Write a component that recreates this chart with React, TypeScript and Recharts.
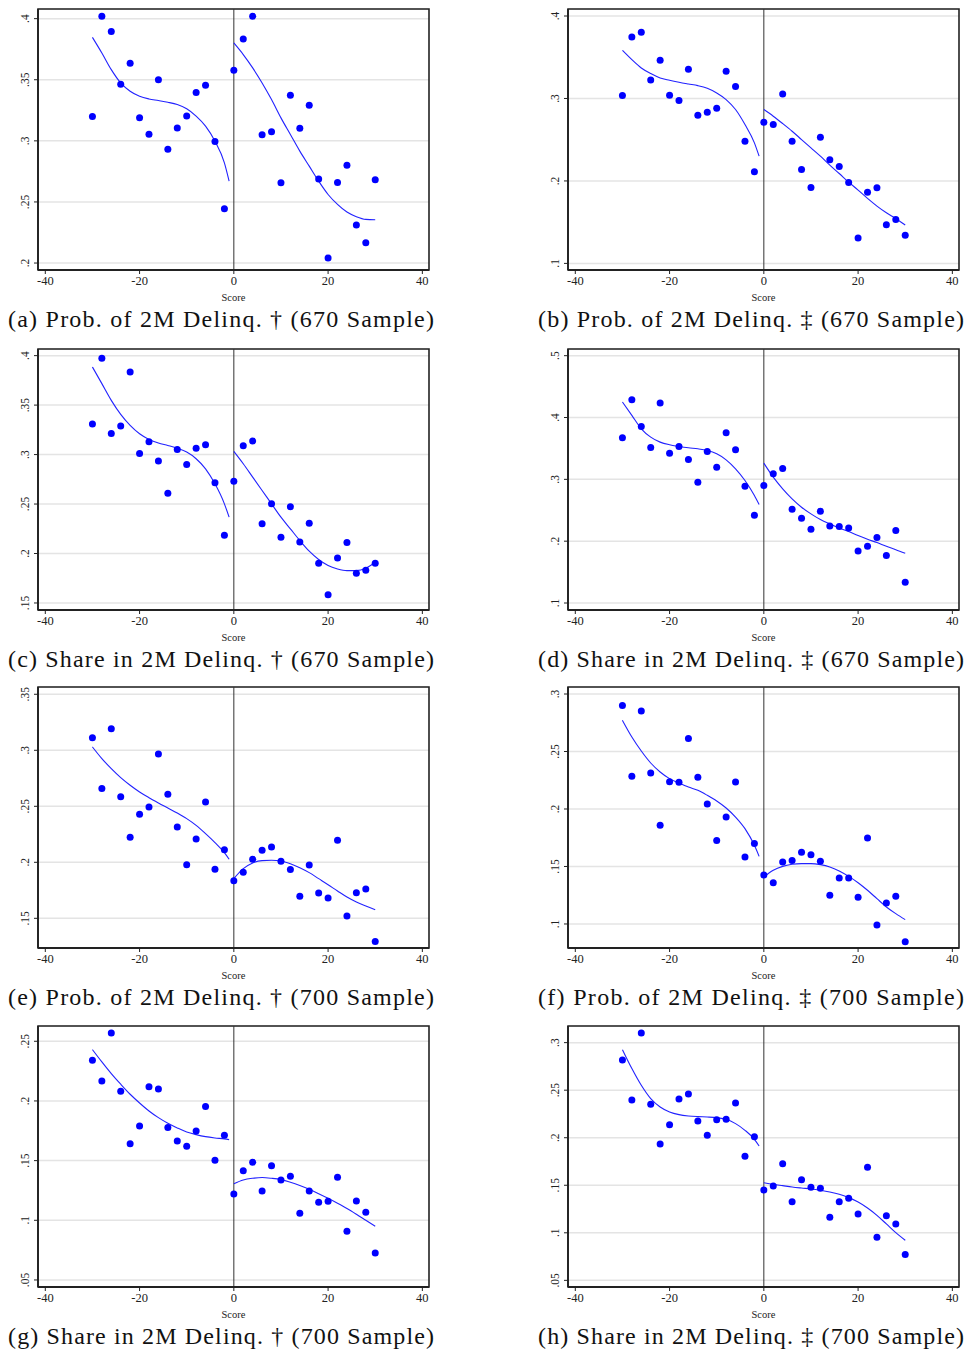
import React from "react"
import {
  ComposedChart,
  Scatter,
  Line,
  XAxis,
  YAxis,
  CartesianGrid,
  ReferenceLine,
  ReferenceArea,
  Label,
} from "recharts"

// score bins (one dot per bin)
const scoreBins = [
  -30, -28, -26, -24, -22, -20, -18, -16, -14, -12, -10, -8, -6, -4, -2,
  0, 2, 4, 6, 8, 10, 12, 14, 16, 18, 20, 22, 24, 26, 28, 30,
]
// positions where the fitted polynomials are sampled
const fitLeftX = [-30, -28, -26, -24, -22, -20, -18, -16, -14, -12, -10, -8, -6, -4, -2, -1]
const fitRightX = [0, 2, 4, 6, 8, 10, 12, 14, 16, 18, 20, 22, 24, 26, 28, 30]
const xTicks = [-40, -20, 0, 20, 40]

// (a) Prob. of 2M delinq., 670 sample, dagger
const probDagger670 = [.3199, .4019, .3894, .3463, .3635, .3188, .3054, .3499, .2932, .3106, .3204, .3395, .3455, .2995, .2444, .3578, .3834, .4019, .3049, .3074, .2657, .3373, .3104, .3292, .2687, .2041, .2659, .2801, .2311, .2166, .2681]
const probDagger670FitL = [.3847, .3719, .3583, .3474, .3406, .3365, .3343, .333, .3316, .3297, .3262, .3202, .312, .2997, .282, .267]
const probDagger670FitR = [.3801, .3706, .3597, .3474, .3338, .3188, .3052, .2916, .2793, .267, .2561, .248, .2417, .2379, .2357, .2354]

// (b) Prob. of 2M delinq., 670 sample, double dagger
const probDDagger670 = [.3035, .3746, .3802, .3225, .3463, .3039, .2975, .3354, .2797, .2833, .2882, .333, .3144, .2482, .2111, .2712, .2684, .3055, .2482, .2139, .1921, .253, .2256, .2175, .1981, .1307, .1864, .1917, .1469, .1533, .134]
const probDDagger670FitL = [.3584, .3471, .337, .3302, .3249, .3221, .3197, .3176, .3156, .3124, .3067, .2987, .2866, .2684, .2462, .23]
const probDDagger670FitR = [.2866, .2785, .2696, .2603, .2502, .2401, .23, .2191, .209, .1985, .1889, .1788, .1695, .1614, .1545, .1465]

// (c) Share in 2M delinq., 670 sample, dagger
const shareDagger670 = [.3308, .3973, .3214, .3288, .3835, .3011, .313, .2934, .261, .3052, .29, .3065, .3099, .2715, .2185, .2731, .3089, .3136, .23, .2502, .2165, .2472, .2117, .2306, .1901, .1584, .1955, .2111, .18, .1831, .1901]
const shareDagger670FitL = [.3885, .3717, .3548, .3406, .3295, .321, .3153, .3116, .3092, .3065, .3025, .2958, .2856, .2704, .2502, .2367]
const shareDagger670FitR = [.3032, .2907, .2772, .2637, .2502, .2367, .2249, .2131, .2023, .1939, .1878, .1844, .1827, .1827, .1851, .1912]

// (d) Share in 2M delinq., 670 sample, double dagger
const shareDDagger670 = [.3672, .4287, .3856, .3516, .4233, .3424, .3532, .3321, .2954, .3451, .3197, .3753, .3478, .2889, .242, .29, .3089, .3175, .2517, .2371, .2193, .2484, .2247, .2236, .2215, .1842, .1918, .2058, .1767, .2171, .1335]
const shareDDagger670FitL = [.425, .4034, .3818, .3683, .3602, .3559, .3532, .351, .3494, .3467, .3413, .3316, .317, .2981, .2738, .2592]
const shareDDagger670FitR = [.3262, .3035, .2846, .2684, .2549, .2441, .235, .2279, .2215, .2155, .209, .2031, .1977, .1917, .1863, .1804]

// (e) Prob. of 2M delinq., 700 sample, dagger
const probDagger700 = [.3113, .2658, .3193, .2586, .2223, .2429, .2494, .2967, .2607, .2315, .1979, .2208, .2539, .1937, .2113, .1836, .1911, .2027, .2107, .2137, .2009, .1935, .1696, .1976, .1726, .1682, .2196, .1521, .1729, .1762, .1292]
const probDagger700FitL = [.303, .2926, .2836, .2756, .2688, .2628, .2577, .253, .2485, .244, .239, .233, .2256, .2176, .2086, .2027]
const probDagger700FitR = [.1854, .1943, .1994, .2015, .2018, .2012, .1988, .1952, .1908, .1854, .18, .1744, .169, .1646, .161, .1577]

// (f) Prob. of 2M delinq., 700 sample, double dagger
const probDDagger700 = [.2901, .2284, .2852, .2313, .1858, .2238, .2232, .2614, .2275, .2043, .1725, .193, .2235, .1583, .1699, .1426, .1359, .1539, .1551, .1623, .1603, .1545, .1249, .14, .14, .1232, .1748, .0991, .1183, .1241, .0846]
const probDDagger700FitL = [.2771, .2626, .2504, .24, .2322, .2264, .2226, .2191, .2162, .2119, .207, .2009, .193, .1829, .1684, .1588]
const probDDagger700FitR = [.1409, .1467, .1501, .1519, .1525, .1525, .1516, .1496, .1461, .1414, .1359, .1293, .122, .1148, .109, .1038]

// (g) Share in 2M delinq., 700 sample, dagger
const shareDagger700 = [.2341, .2168, .257, .2081, .1642, .1791, .212, .2101, .1777, .1665, .162, .1749, .1953, .1503, .1712, .1221, .1416, .1486, .1246, .1458, .1338, .1369, .1059, .1246, .1151, .1159, .136, .0908, .1162, .1067, .0726]
const shareDagger700FitL = [.243, .2327, .2229, .214, .2056, .1983, .1916, .186, .1813, .1774, .174, .1718, .1701, .169, .1682, .1676]
const shareDagger700FitR = [.1307, .1338, .1352, .1358, .1352, .1341, .1318, .1291, .126, .1223, .1184, .1142, .1098, .105, .1, .095]

// (h) Share in 2M delinq., 700 sample, double dagger
const shareDDagger700 = [.2818, .2397, .3102, .2351, .1934, .2137, .2407, .246, .2176, .2025, .219, .2194, .2365, .1804, .2011, .145, .1492, .1727, .1327, .1559, .1478, .1468, .1163, .1327, .1363, .1198, .1689, .0952, .118, .1093, .0773]
const shareDDagger700FitL = [.2926, .2727, .2551, .2411, .2323, .2271, .2243, .2229, .2222, .2218, .2211, .2194, .2148, .2078, .1983, .1913]
const shareDDagger700FitR = [.1527, .151, .1496, .1482, .1471, .1461, .1447, .1429, .1405, .137, .1324, .1261, .1184, .1093, .1001, .0921]

const captions = [
  "(a) Prob. of 2M Delinq. \u2020 (670 Sample)",
  "(b) Prob. of 2M Delinq. \u2021 (670 Sample)",
  "(c) Share in 2M Delinq. \u2020 (670 Sample)",
  "(d) Share in 2M Delinq. \u2021 (670 Sample)",
  "(e) Prob. of 2M Delinq. \u2020 (700 Sample)",
  "(f) Prob. of 2M Delinq. \u2021 (700 Sample)",
  "(g) Share in 2M Delinq. \u2020 (700 Sample)",
  "(h) Share in 2M Delinq. \u2021 (700 Sample)",
]

const yTicksByPanel = [
  [.2, .25, .3, .35, .4],
  [.1, .2, .3, .4],
  [.15, .2, .25, .3, .35, .4],
  [.1, .2, .3, .4, .5],
  [.15, .2, .25, .3, .35],
  [.1, .15, .2, .25, .3],
  [.05, .1, .15, .2, .25],
  [.05, .1, .15, .2, .25, .3],
]

const yDomains: [number, number][] = [
  [.1943, .4079],
  [.092, .4085],
  [.1429, .4067],
  [.0887, .5108],
  [.1235, .3565],
  [.0791, .3061],
  [.0441, .2628],
  [.043, .3175],
]

const series = [
  [probDagger670, probDagger670FitL, probDagger670FitR],
  [probDDagger670, probDDagger670FitL, probDDagger670FitR],
  [shareDagger670, shareDagger670FitL, shareDagger670FitR],
  [shareDDagger670, shareDDagger670FitL, shareDDagger670FitR],
  [probDagger700, probDagger700FitL, probDagger700FitR],
  [probDDagger700, probDDagger700FitL, probDDagger700FitR],
  [shareDagger700, shareDagger700FitL, shareDagger700FitR],
  [shareDDagger700, shareDDagger700FitL, shareDDagger700FitR],
]

const X_DOMAIN: [number, number] = [-41.55, 41.41]
const FONT = "'Liberation Serif', 'Times New Roman', serif"
const DOT = "#0000ff"
const FIT = "#2222ff"
const INK = "#222"

const colLeft = [0, 530]
const frameTop = [9.3, 348.7, 686.7, 1025.7]
const FRAME_W = 391
const FRAME_H = 261
const M_TOP = 8
const M_LEFT = 8
const Y_W = 30
const X_H = 32

// stata-style number labels: .35 instead of 0.35
const fmt = (v: number) => String(+v.toFixed(3)).replace(/^0\./, ".")

const YTick = (props: any) => {
  const { x, y, payload } = props
  return (
    <text
      x={x}
      y={y}
      transform={`rotate(-90 ${x} ${y})`}
      textAnchor="middle"
      fontSize={11.5}
      fontFamily={FONT}
      fill={INK}
    >
      {fmt(payload.value)}
    </text>
  )
}

const Dot = (props: any) => <circle cx={props.cx} cy={props.cy} r={3.5} fill={DOT} />

function Panel({ idx }: { idx: number }) {
  const [pts, fitL, fitR] = series[idx]
  const dots = scoreBins.map((x, i) => ({ x, y: pts[i] }))
  const left = fitLeftX.map((x, i) => ({ x, y: fitL[i] }))
  const right = fitRightX.map((x, i) => ({ x, y: fitR[i] }))
  const [y0, y1] = yDomains[idx]
  const col = idx % 2
  const row = Math.floor(idx / 2)
  const top = frameTop[row] - M_TOP
  const capLeft = col === 0 ? 8 : 538

  return (
    <>
      <div style={{ position: "absolute", left: colLeft[col], top }}>
        <ComposedChart
          width={M_LEFT + Y_W + FRAME_W + 4}
          height={M_TOP + FRAME_H + X_H}
          margin={{ top: M_TOP, right: 4, bottom: 0, left: M_LEFT }}
        >
          <CartesianGrid vertical={false} stroke="#e4e4e4" strokeWidth={1.5} />
          <XAxis
            type="number"
            dataKey="x"
            domain={X_DOMAIN}
            ticks={xTicks}
            allowDataOverflow
            height={X_H}
            tickSize={4}
            tickMargin={2}
            tick={{ fontSize: 12.5, fontFamily: FONT, fill: INK }}
            axisLine={{ stroke: INK, strokeWidth: 1.8 }}
            tickLine={{ stroke: INK }}
          >
            <Label
              value="Score"
              position="insideBottom"
              offset={1}
              style={{ fontSize: 10.5, fontFamily: FONT, fill: INK }}
            />
          </XAxis>
          <YAxis
            type="number"
            dataKey="y"
            domain={[y0, y1]}
            ticks={yTicksByPanel[idx]}
            allowDataOverflow
            width={Y_W}
            tickSize={4}
            tickMargin={5}
            tick={<YTick />}
            axisLine={{ stroke: INK, strokeWidth: 1.8 }}
            tickLine={{ stroke: INK }}
          />
          <ReferenceArea
            x1={X_DOMAIN[0]}
            x2={X_DOMAIN[1]}
            y1={y0}
            y2={y1}
            fill="none"
            stroke={INK}
            strokeWidth={1.6}
            ifOverflow="visible"
          />
          <ReferenceLine x={0} stroke="#333" strokeWidth={1} />
          <Scatter data={dots} fill={DOT} shape={<Dot />} isAnimationActive={false} />
          <Line
            data={left}
            dataKey="y"
            type="monotone"
            stroke={FIT}
            strokeWidth={1.1}
            dot={false}
            isAnimationActive={false}
          />
          <Line
            data={right}
            dataKey="y"
            type="monotone"
            stroke={FIT}
            strokeWidth={1.1}
            dot={false}
            isAnimationActive={false}
          />
        </ComposedChart>
      </div>
      <svg
        width={440}
        height={36}
        style={{ position: "absolute", left: capLeft, top: frameTop[row] + FRAME_H + 31 }}
      >
        <text
          x={0}
          y={26}
          textLength={426}
          lengthAdjust="spacing"
          fontSize={24}
          fontFamily={FONT}
          fill="#111"
        >
          {captions[idx]}
        </text>
      </svg>
    </>
  )
}

export default function App() {
  return (
    <div
      style={{
        position: "absolute",
        left: 0,
        top: 0,
        width: 967,
        height: 1351,
        background: "#fff",
      }}
    >
      {captions.map((_, i) => (
        <Panel key={i} idx={i} />
      ))}
    </div>
  )
}
